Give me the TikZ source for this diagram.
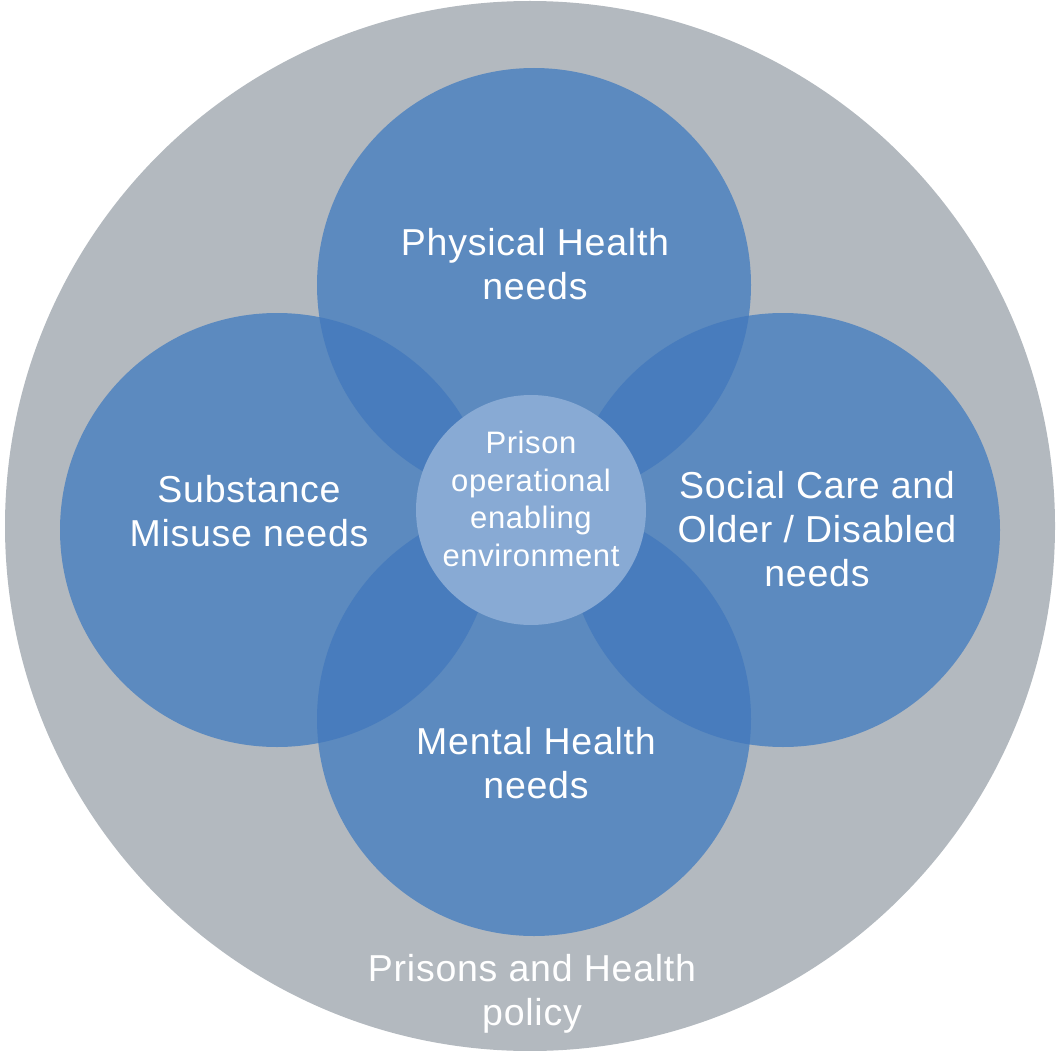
\documentclass[tikz,border=0pt]{standalone}
\usepackage{fontspec}
\setmainfont{Liberation Sans}[LetterSpace=2]
\definecolor{outergray}{HTML}{B3B9BF}
\definecolor{needblue}{HTML}{5C8ABF}
\definecolor{overlapblue}{HTML}{487CBD}
\definecolor{coreblue}{HTML}{88AAD4}
\begin{document}
\begin{tikzpicture}[x=1pt,y=-1pt,
  outer/.style={circle,fill=outergray,minimum size=1050pt,inner sep=0pt},
  need/.style={circle,fill=needblue,minimum size=434pt,inner sep=0pt},
  core/.style={circle,fill=coreblue,minimum size=230pt,inner sep=0pt},
  biglabel/.style={text=white,align=center,font=\fontsize{37.5}{44}\selectfont},
  corelabel/.style={text=white,align=center,font=\fontsize{31}{37.5}\selectfont}]
\useasboundingbox (0,0) rectangle (1057,1051);
\node[outer] (outer) at (530,526) {};
\node[need] (top) at (534,285) {};
\node[need] (left) at (277,530) {};
\node[need] (right) at (783,530) {};
\node[need] (bottom) at (534,719) {};
\begin{scope}
  \clip (top.center) circle (217pt);
  \fill[overlapblue] (left.center) circle (217pt);
  \fill[overlapblue] (right.center) circle (217pt);
\end{scope}
\begin{scope}
  \clip (bottom.center) circle (217pt);
  \fill[overlapblue] (left.center) circle (217pt);
  \fill[overlapblue] (right.center) circle (217pt);
\end{scope}
\node[core] (core) at (531,510) {};
\node[biglabel] (toplab) at (535,264) {Physical Health\\needs};
\node[biglabel] (leftlab) at (249,511) {Substance\\Misuse needs};
\node[biglabel] (rightlab) at (817,529) {Social Care and\\Older / Disabled\\needs};
\node[biglabel] (bottomlab) at (536,763) {Mental Health\\needs};
\node[corelabel] (corelab) at (531,499) {Prison\\operational\\enabling\\environment};
\node[biglabel] (outerlab) at (532,994) {Prisons and Health\\policy};
\end{tikzpicture}
\end{document}
